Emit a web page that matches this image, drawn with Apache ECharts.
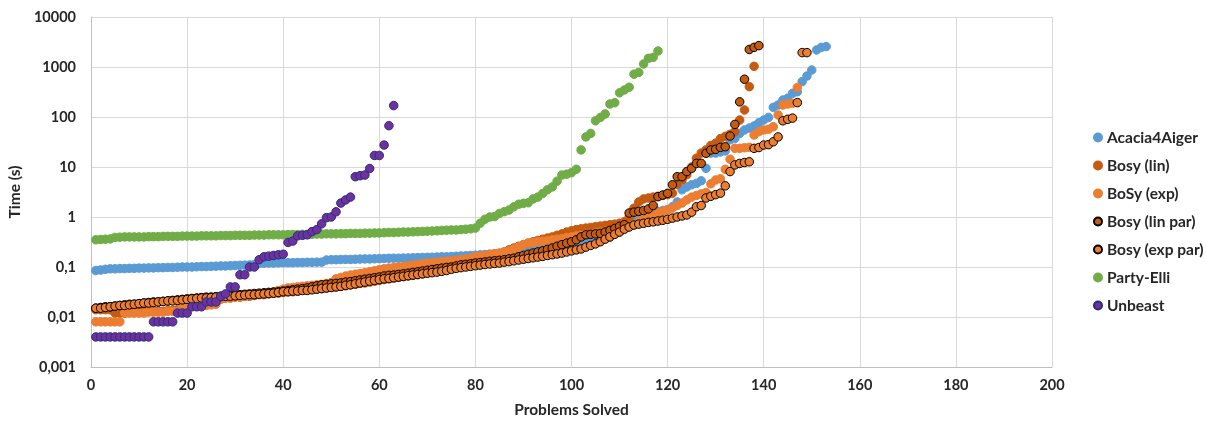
<!DOCTYPE html>
<html><head><meta charset="utf-8">
<script src="https://cdn.jsdelivr.net/npm/echarts/dist/echarts.min.js"></script>
<style>html,body{margin:0;padding:0;background:#fff}#c{width:1206px;height:421px}</style>
</head><body><div id="c"></div>
<script>
const seriesNames = ['Acacia4Aiger','Bosy (lin)','BoSy (exp)','Bosy (lin par)','Bosy (exp par)','Party-Elli','Unbeast'];
const xTicks = [0,20,40,60,80,100,120,140,160,180,200];
const yTickLabels = ['0,001','0,01','0,1','1','10','100','1000','10000'];

const acacia = [0.085,0.087,0.09,0.092,0.092,0.093,0.093,0.094,0.094,0.095,
0.095,0.096,0.096,0.097,0.097,0.098,0.098,0.099,0.1,0.1,
0.1,0.101,0.102,0.102,0.103,0.104,0.105,0.105,0.106,0.107,
0.108,0.109,0.11,0.112,0.118,0.119,0.12,0.12,0.121,0.122,
0.122,0.122,0.123,0.123,0.124,0.124,0.125,0.125,0.138,0.14,
0.14,0.141,0.142,0.142,0.143,0.144,0.145,0.145,0.146,0.147,
0.148,0.149,0.15,0.15,0.151,0.152,0.153,0.154,0.155,0.156,
0.157,0.158,0.16,0.16,0.162,0.164,0.166,0.168,0.17,0.172,
0.175,0.178,0.18,0.184,0.188,0.19,0.195,0.2,0.205,0.21,
0.215,0.22,0.225,0.23,0.24,0.25,0.26,0.27,0.28,0.29,
0.3,0.31,0.32,0.33,0.34,0.35,0.37,0.4,0.45,0.5,
0.6,0.75,0.95,1.1,1.15,1.2,1.25,1.3,1.35,1.4,
1.6,2.0,3.5,4.0,4.4,4.7,5.3,9.4,19,19,
20,21,35,37,47,55,60,66,77,87,
98,156,174,219,237,298,320,510,660,870,
2190,2470,2560];

const bosyLin = [0.014,0.014,0.014,0.014,0.012,0.012,0.012,0.0125,0.0125,0.0125,
0.013,0.013,0.013,0.013,0.013,0.0135,0.0135,0.014,0.014,0.018,
0.019,0.02,0.02,0.021,0.022,0.022,0.023,0.024,0.024,0.025,
0.025,0.026,0.026,0.027,0.028,0.028,0.029,0.03,0.03,0.031,
0.032,0.032,0.033,0.034,0.035,0.036,0.036,0.037,0.038,0.039,
0.04,0.041,0.042,0.044,0.045,0.047,0.048,0.05,0.052,0.054,
0.056,0.058,0.06,0.062,0.064,0.066,0.068,0.07,0.073,0.076,
0.08,0.083,0.087,0.09,0.095,0.1,0.105,0.11,0.115,0.12,
0.13,0.14,0.15,0.165,0.18,0.2,0.22,0.24,0.26,0.28,
0.3,0.32,0.34,0.36,0.38,0.4,0.43,0.46,0.5,0.53,
0.56,0.58,0.6,0.62,0.64,0.66,0.68,0.7,0.72,0.75,0.8,
1.0,1.5,2.0,2.3,2.4,2.5,2.6,
2.7,2.8,3.0,4.5,5.5,7,10,15,19,22,27,30,37,41,45,51,87,138,405,1030];

const bosyExp = [0.008,0.008,0.008,0.008,0.008,0.008,
0.012,0.012,0.012,0.012,0.012,0.0125,0.0125,0.0125,0.0125,0.013,0.013,0.013,
0.016,0.016,0.0165,0.0165,0.017,0.017,0.0175,0.018,
0.023,0.024,0.024,0.025,0.025,0.026,
0.027,0.028,0.029,0.03,0.031,0.032,0.034,0.036,
0.038,0.039,0.04,0.041,0.042,0.043,0.044,0.045,0.047,0.049,
0.058,0.062,0.066,0.069,0.072,0.074,0.077,0.08,0.084,0.088,
0.092,0.095,0.098,0.1,0.103,0.106,0.11,0.113,0.116,0.12,
0.122,0.125,0.128,0.13,0.133,0.137,0.14,0.145,0.15,0.16,
0.165,0.17,0.18,0.185,0.19,0.2,0.21,0.23,0.25,0.28,
0.3,0.31,0.32,0.33,0.34,0.35,0.36,0.37,0.39,0.4,
0.42,0.43,0.45,0.46,0.48,0.5,0.52,0.54,0.56,0.58,
0.6,0.65,0.7,0.8,0.9,1.0,1.1,1.2,1.3,1.4,1.5,
1.7,1.9,2.2,2.5,2.7,2.9,3.1,4.6,5.5,5.8,9,14.3,23.6,23.6,24.2,24.7,43.6,51,55,57,64,110,174,182,188,390];

const bosyLinPar = [0.015,0.0155,0.016,0.016,0.0165,0.017,0.0175,0.018,0.018,0.0185,
0.019,0.0195,0.02,0.02,0.0205,0.021,0.0215,0.022,0.0225,0.023,
0.0235,0.024,0.0245,0.025,0.025,0.0255,0.026,0.0265,0.027,0.0275,
0.028,0.0285,0.029,0.0295,0.03,0.0305,0.031,0.0315,0.032,0.033,
0.034,0.035,0.036,0.037,0.038,0.04,0.042,0.044,0.045,0.046,
0.047,0.048,0.05,0.051,0.053,0.055,0.057,0.059,0.061,0.063,
0.066,0.068,0.069,0.071,0.073,0.075,0.078,0.08,0.083,0.086,
0.089,0.092,0.095,0.098,0.1,0.105,0.11,0.113,0.116,0.12,
0.123,0.126,0.13,0.133,0.136,0.14,0.145,0.15,0.16,0.17,
0.18,0.19,0.2,0.21,0.225,0.24,0.26,0.28,0.3,0.32,
0.35,0.4,0.44,0.45,0.46,0.47,0.5,0.54,0.59,0.65,0.7,
1.2,1.25,1.3,1.35,1.45,1.7,2.55,2.75,2.97,4.4,6.4,6.4,8.1,9.4,11.8,11.8,
18.8,21.9,22.6,24.7,25.4,41.7,71,201,570,2240,2470,2680];

const bosyExpPar = [0.015,0.015,0.0155,0.016,0.0165,0.017,0.017,0.0175,0.018,0.0185,
0.019,0.019,0.0195,0.02,0.0205,0.021,0.021,0.0215,0.022,0.0225,
0.023,0.0235,0.024,0.024,0.0245,0.025,0.0255,0.026,0.026,0.0265,
0.027,0.0275,0.028,0.028,0.0285,0.029,0.0295,0.03,0.031,0.032,
0.032,0.033,0.033,0.034,0.034,0.035,0.036,0.037,0.038,0.039,
0.04,0.041,0.043,0.044,0.046,0.048,0.05,0.052,0.054,0.056,
0.058,0.059,0.061,0.063,0.065,0.067,0.069,0.071,0.073,0.075,
0.077,0.079,0.082,0.085,0.09,0.094,0.097,0.1,0.103,0.106,
0.109,0.112,0.115,0.118,0.12,0.125,0.128,0.133,0.138,0.143,
0.148,0.153,0.158,0.163,0.17,0.176,0.182,0.19,0.2,0.21,
0.22,0.23,0.25,0.27,0.29,0.32,0.36,0.4,0.45,0.5,0.57,
0.63,0.69,0.72,0.75,0.78,0.8,0.83,0.86,0.9,0.95,1.0,1.05,1.1,
1.25,1.6,1.7,2.4,2.6,2.8,3.0,4.2,8.1,11,11.8,12.3,12.7,23.6,24.5,27.5,28,32,40,84,90,95,194,1940,1940];

const partyElli = [0.35,0.355,0.36,0.365,0.39,0.395,0.4,0.4,0.4,0.4,
0.4,0.405,0.405,0.405,0.41,0.41,0.41,0.41,0.415,0.415,
0.415,0.415,0.42,0.42,0.42,0.42,0.425,0.425,0.425,0.43,
0.43,0.43,0.43,0.435,0.435,0.435,0.44,0.44,0.44,0.44,
0.445,0.445,0.445,0.45,0.45,0.45,0.455,0.455,0.46,0.46,
0.46,0.465,0.465,0.47,0.47,0.47,0.475,0.475,0.48,0.48,
0.485,0.49,0.49,0.495,0.5,0.5,0.505,0.51,0.515,0.52,
0.525,0.53,0.54,0.545,0.55,0.55,0.56,0.57,0.58,0.6,
0.75,0.9,1.0,1.02,1.18,1.28,1.38,1.6,1.8,1.88,
1.93,2.3,2.5,2.95,3.5,4.0,5.2,6.9,7.2,7.7,
9.0,22,40,47,84,98,115,182,193,305,
347,393,718,780,1150,1490,1560,2090];

const unbeast = [0.004,0.004,0.004,0.004,0.004,0.004,0.004,0.004,0.004,0.004,0.004,0.004,
0.008,0.008,0.008,0.008,0.008,
0.012,0.012,0.012,
0.016,0.016,0.016,
0.02,0.02,0.02,
0.026,0.029,0.04,0.04,0.07,0.07,0.1,0.1,0.14,
0.16,0.165,0.17,0.175,0.18,
0.31,0.33,0.42,0.43,0.44,0.51,0.56,0.73,0.97,1.0,
1.27,1.9,2.2,2.5,6.4,6.7,6.9,9.3,17,17,27.5,67,169];

const allValues = [acacia,bosyLin,bosyExp,bosyLinPar,bosyExpPar,partyElli,unbeast];
const fills = ['#5B9BD5','#C55A11','#ED7D31','#C55A11','#ED7D31','#70AD47','#7030A0'];
const borders = ['#5B9BD5','#C55A11','#ED7D31','#000000','#000000','#70AD47','#26307A'];

const FONT = 'Lato';
const txt = {fontFamily: FONT, fontWeight: 'bold', fontSize: 14.5, color: '#262626'};

const series = seriesNames.map((name, k) => ({
  name, type: 'scatter', symbol: 'circle', symbolSize: 8.5,
  data: allValues[k].map((v, i) => [i + 1, v]),
  itemStyle: {color: fills[k], borderColor: borders[k], borderWidth: 1, opacity: 1},
  emphasis: {disabled: true}
}));

const chart = echarts.init(document.getElementById('c'), null, {renderer: 'canvas'});
chart.setOption({
  animation: false,
  backgroundColor: '#ffffff',
  grid: {left: 91, right: 154, top: 17, bottom: 54, containLabel: false, outerBoundsMode: 'none'},
  xAxis: {
    type: 'value', min: xTicks[0], max: xTicks[xTicks.length - 1], interval: 20,
    name: 'Problems Solved', nameLocation: 'middle', nameGap: 35,
    nameTextStyle: Object.assign({}, txt, {fontSize: 15.5}),
    axisLine: {show: true, lineStyle: {color: '#BFBFBF', width: 1}},
    axisTick: {show: false},
    axisLabel: Object.assign({}, txt, {margin: 11}),
    splitLine: {show: true, lineStyle: {color: '#D9D9D9', width: 1}}
  },
  yAxis: {
    type: 'log', logBase: 10, min: 0.001, max: 10000, interval: 1,
    name: 'Time (s)', nameLocation: 'middle', nameGap: 66,
    nameTextStyle: Object.assign({}, txt, {fontSize: 15.5}),
    axisLine: {show: true, lineStyle: {color: '#BFBFBF', width: 1}},
    axisTick: {show: false},
    axisLabel: Object.assign({}, txt, {margin: 15, formatter: v => {
      const e = Math.round(Math.log10(v));
      return yTickLabels[e + 3];
    }}),
    splitLine: {show: true, lineStyle: {color: '#D9D9D9', width: 1}}
  },
  legend: {
    orient: 'vertical', left: 1088, top: 124,
    itemWidth: 8, itemHeight: 8, itemGap: 11, icon: 'circle',
    textStyle: Object.assign({}, txt, {fontSize: 15.5, lineHeight: 17}),
    data: seriesNames
  },
  series
});
</script>
</body></html>
